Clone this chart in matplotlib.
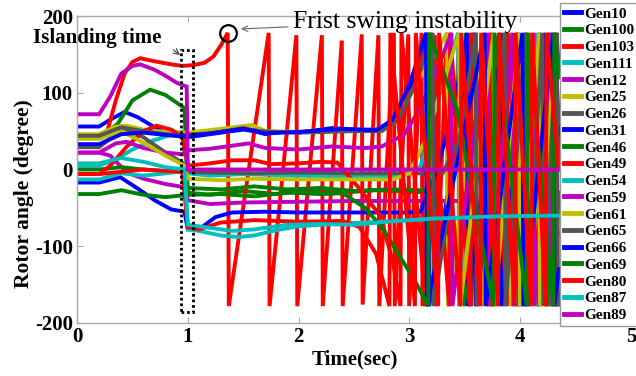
import matplotlib
matplotlib.use("Agg")
import matplotlib.pyplot as plt
from matplotlib.patches import Rectangle

# ---------------- data ----------------
labels = ["Gen10", "Gen100", "Gen103", "Gen111", "Gen12", "Gen25", "Gen26",
          "Gen31", "Gen46", "Gen49", "Gen54", "Gen59", "Gen61", "Gen65",
          "Gen66", "Gen69", "Gen80", "Gen87", "Gen89"]
colors = ["#0000ff", "#008000", "#ff0000", "#00bfbf", "#bf00bf", "#bfbf00", "#555555",
          "#0000ff", "#008000", "#ff0000", "#00bfbf", "#bf00bf", "#bfbf00", "#555555",
          "#0000ff", "#008000", "#ff0000", "#00bfbf", "#bf00bf"]

g10_t = [0, 0.2, 0.3, 0.43, 0.55, 0.7, 0.8, 0.93, 1.0, 1.2, 1.5, 1.6, 1.7, 1.85, 2.0, 2.3, 2.5, 2.76, 2.91, 3.06, 3.17, 3.178, 3.59, 3.598, 3.98, 3.988, 4.27, 4.278, 4.35]
g10_y = [56, 56, 65, 75, 68, 55, 47, 43, 42, 46, 52, 50, 46, 49, 48, 54, 52, 52, 74, 126, 178, -178, 178, -178, 178, -178, 178, -178, -90]

g100_t = [0, 0.2, 0.3, 0.37, 0.5, 0.66, 0.8, 0.97, 1.0, 1.2, 1.5, 1.8, 2.1, 2.4, 2.7, 3.0, 3.2, 3.35, 3.5, 3.508, 3.75, 3.758, 3.97, 3.978, 4.16, 4.168, 4.32, 4.328, 4.35]
g100_y = [45, 45, 52, 60, 90, 104, 97, 80, -30, -33, -28, -32, -27, -30, -27, -29, -30, -80, -178, 178, -178, 178, -178, 178, -178, 178, -178, 178, 130]

g103_t = [0, 0.2, 0.27, 0.35, 0.43, 0.5, 0.57, 0.7, 0.85, 0.95, 1.05, 1.15, 1.23, 1.3, 1.36, 1.37,
          1.73, 1.738, 1.98, 1.988, 2.21, 2.218, 2.39, 2.398, 2.57, 2.578, 2.72, 2.728, 2.86, 2.868,
          2.99, 2.998, 3.11, 3.118, 3.23, 3.238, 3.34, 3.348, 3.45, 3.458, 3.55, 3.558, 3.65, 3.658,
          3.74, 3.748, 3.83, 3.838, 3.92, 3.928, 4.00, 4.008, 4.08, 4.088, 4.16, 4.168, 4.24, 4.248,
          4.32, 4.328, 4.35]
g103_y = [42, 42, 48, 90, 125, 140, 145, 141, 137, 135, 136, 139, 147, 162, 178, -178,
          178, -178, 175, -178, 175, -178, 168, -178, 176, -176, 175, -178, 178, -178,
          176, -178, 178, -178, 175, -178, 178, -178, 176, -178, 178, -178, 175, -178,
          178, -178, 176, -178, 178, -178, 175, -178, 178, -178, 176, -178, 178, -178,
          178, -178, -100]

g111_t = [0, 0.2, 0.35, 0.5, 0.65, 0.8, 0.95, 1.0, 1.2, 1.5, 2.0, 2.5, 2.9, 3.0, 3.1, 3.2, 3.3, 3.44, 3.448, 3.72, 3.728, 3.95, 3.958, 4.14, 4.148, 4.30, 4.308, 4.35]
g111_y = [5, 5, 13, 26, 36, 43, 49, -5, -8, -6, -8, -9, -8, -5, 4, 60, 115, 178, -178, 178, -178, 178, -178, 178, -178, 178, -178, -80]

g12_t = [0, 0.2, 0.3, 0.45, 0.6, 0.8, 0.97, 1.0, 1.2, 1.5, 2.0, 2.5, 3.0, 3.52, 3.62, 3.75, 3.758, 3.98, 3.988, 4.17, 4.178, 4.33, 4.338, 4.35]
g12_y = [22, 22, 18, -4, -12, -19, -23, -40, -45, -43, -42, -41, -41, -41, 20, 178, -178, 178, -178, 178, -178, 178, -178, -160]

g25_t = [0, 0.2, 0.35, 0.45, 0.6, 0.8, 1.0, 1.3, 1.58, 1.7, 2.0, 2.4, 2.75, 2.85, 2.95, 3.1, 3.25, 3.34, 3.348, 3.66, 3.668, 3.9, 3.908, 4.1, 4.108, 4.26, 4.268, 4.35]
g25_y = [46, 46, 56, 57, 52, 49, 48, 53, 58, 50, 49, 51, 50, 60, 82, 120, 155, 178, -178, 178, -178, 178, -178, 178, -178, 178, -178, -60]

g26_t = [0, 0.2, 0.42, 0.6, 0.8, 0.95, 1.0, 1.2, 1.6, 2.0, 2.5, 3.0, 3.3, 3.45, 3.6, 3.608, 3.85, 3.858, 4.05, 4.058, 4.22, 4.228, 4.35]
g26_y = [29, 29, 54, 42, 22, 9, -3, -4, -5, -4, -5, -5, -5, 40, 178, -178, 178, -178, 178, -178, 178, -178, 75]

g31_t = [0, 0.2, 0.39, 0.55, 0.7, 0.85, 0.97, 1.0, 1.1, 1.25, 1.4, 1.7, 2.0, 2.5, 3.0, 3.1, 3.25, 3.4, 3.52, 3.528, 3.82, 3.828, 4.06, 4.068, 4.23, 4.238, 4.35]
g31_y = [-17, -17, -10, -25, -40, -52, -55, -78, -78, -62, -56, -55, -56, -56, -56, -55, 0, 80, 178, -178, 178, -178, 178, -178, 178, -178, 60]

g46_t = [0, 0.2, 0.4, 0.6, 0.8, 0.97, 1.0, 1.3, 1.6, 1.9, 2.2, 2.5, 2.8, 3.1, 3.2, 3.4, 3.55, 3.558, 3.8, 3.808, 4.05, 4.058, 4.25, 4.258, 4.35]
g46_y = [0, 0, 3, 0, -2, -3, -24, -26, -22, -26, -24, -28, -26, -27, -28, -100, -178, 178, -178, 178, -178, 178, -178, 178, 20]

g49_t = [0, 0.2, 0.3, 0.45, 0.6, 0.72, 0.85, 0.95, 1.0, 1.2, 1.4, 1.6, 1.75, 2.0, 2.2, 2.35, 2.55, 2.74, 2.85, 2.92, 2.928,
         3.15, 3.158, 3.36, 3.368, 3.55, 3.558, 3.72, 3.728, 3.88, 3.888, 4.03, 4.038, 4.17, 4.178, 4.30, 4.308, 4.35]
g49_y = [-6, -6, 5, 30, 50, 57, 52, 43, 5, 8, 12, 12, 7, 8, 10, 9, -25, -61, -120, -178, 178,
         -178, 178, -178, 178, -178, 178, -178, 178, -178, 178, -178, 178, -178, 178, -178, 178, 60]

g54_t = [0, 0.2, 0.4, 0.6, 0.8, 0.97, 1.0, 1.1, 1.3, 1.45, 1.6, 1.8, 2.0, 2.3, 2.6, 3.0, 3.5, 4.0, 4.35]
g54_y = [-13, -13, -5, -8, -5, -2, -78, -80, -86, -88, -86, -79, -74, -71, -69, -66, -63, -61, -60]

g59_t = [0, 0.2, 0.35, 0.45, 0.6, 0.8, 0.95, 1.0, 1.2, 1.4, 1.55, 1.7, 2.0, 2.3, 2.6, 2.75, 2.95, 3.1, 3.25, 3.38, 3.388, 3.70, 3.708, 3.93, 3.938, 4.12, 4.128, 4.28, 4.288, 4.35]
g59_y = [22, 22, 34, 36, 28, 22, 20, 25, 27, 31, 34, 28, 26, 30, 28, 30, 45, 80, 130, 178, -178, 178, -178, 178, -178, 178, -178, 178, -178, -30]

g61_t = [0, 0.2, 0.4, 0.6, 0.8, 0.97, 1.0, 1.3, 1.6, 2.0, 2.5, 2.85, 3.0, 3.15, 3.3, 3.45, 3.458, 3.76, 3.768, 3.99, 3.998, 4.17, 4.178, 4.31, 4.318, 4.35]
g61_y = [40, 40, 50, 35, 18, 5, -12, -14, -12, -13, -13, -13, -5, 40, 110, 178, -178, 178, -178, 178, -178, 178, -178, 178, -178, -90]

g65_t = [0, 0.2, 0.4, 0.6, 0.8, 0.95, 1.2, 1.5, 1.65, 2.0, 2.5, 2.75, 2.9, 3.05, 3.21, 3.218, 3.60, 3.608, 3.86, 3.868, 4.05, 4.058, 4.2, 4.208, 4.33, 4.338, 4.35]
g65_y = [44, 44, 55, 50, 46, 45, 47, 54, 50, 48, 50, 50, 65, 110, 178, -178, 178, -178, 178, -178, 178, -178, 178, -178, 178, -178, -170]

g66_t = [0, 0.2, 0.4, 0.6, 0.8, 0.95, 1.0, 1.2, 1.5, 1.7, 2.0, 2.4, 2.7, 2.85, 3.0, 3.15, 3.158, 3.68, 3.688, 4.02, 4.028, 4.30, 4.308, 4.35]
g66_y = [33, 33, 46, 48, 45, 43, 44, 47, 53, 47, 49, 53, 51, 65, 110, 178, -178, 178, -178, 178, -178, 178, -178, -130]

g69_t = [0, 0.2, 0.4, 0.6, 0.8, 1.0, 1.3, 1.6, 1.9, 2.2, 2.4, 2.6, 2.75, 2.9, 3.05, 3.17, 3.178, 3.43, 3.76, 3.768, 4.06, 4.068, 4.30, 4.308, 4.35]
g69_y = [-32, -32, -27, -33, -36, -33, -32, -35, -30, -32, -31, -50, -75, -110, -145, -178, 178, 78, -178, 178, -178, 178, -178, 178, 120]

g80_t = [0, 0.2, 0.4, 0.6, 0.8, 0.95, 1.0, 1.1, 1.3, 1.6, 2.0, 2.4, 2.55, 2.7, 2.82, 2.828, 3.05, 3.058, 3.26, 3.268,
         3.46, 3.468, 3.64, 3.648, 3.80, 3.808, 3.95, 3.958, 4.10, 4.108, 4.23, 4.238, 4.35]
g80_y = [-6, -6, -3, 0, -2, -3, -75, -78, -69, -66, -68, -67, -75, -110, -178, 178, -178, 178, -178, 178,
         -178, 178, -178, 178, -178, 178, -178, 178, -178, 178, -178, 178, 0]

g87_t = [0, 0.2, 0.4, 0.6, 0.8, 0.97, 1.0, 1.2, 1.4, 1.6, 1.9, 2.2, 2.5, 2.8, 3.2, 3.8, 4.35]
g87_y = [8, 8, 15, 10, 3, 0, -72, -76, -80, -78, -72, -71, -72, -68, -64, -61, -60]

g89_t = [0, 0.2, 0.3, 0.4, 0.5, 0.57, 0.7, 0.8, 0.9, 0.99, 1.0, 4.35]
g89_y = [72, 72, 95, 125, 135, 137, 130, 122, 113, 108, 0, 0]

series_t = [g10_t, g100_t, g103_t, g111_t, g12_t, g25_t, g26_t, g31_t, g46_t, g49_t,
            g54_t, g59_t, g61_t, g65_t, g66_t, g69_t, g80_t, g87_t, g89_t]
series_y = [g10_y, g100_y, g103_y, g111_y, g12_y, g25_y, g26_y, g31_y, g46_y, g49_y,
            g54_y, g59_y, g61_y, g65_y, g66_y, g69_y, g80_y, g87_y, g89_y]

xticks = [0, 1, 2, 3, 4, 5]
yticks = [-200, -100, 0, 100, 200]

# ---------------- figure ----------------
serif = ["Liberation Serif", "DejaVu Serif"]
plt.rcParams["font.family"] = serif

fig = plt.figure(figsize=(6.36, 3.76), dpi=100)
ax = fig.add_axes([77 / 636, 1 - 323 / 376, 554 / 636, 307 / 376])

for t, y, c, lab in zip(series_t, series_y, colors, labels):
    ax.plot(t, y, color=c, lw=2.8, label=lab, solid_joinstyle="miter")

ax.set_xlim(0, 5)
ax.set_ylim(-200, 200)
ax.set_xticks(xticks)
ax.set_yticks(yticks)
ax.set_xticklabels([str(v) for v in xticks])
ax.set_yticklabels([str(v) for v in yticks])
ax.tick_params(direction="in", length=4, width=0.8, color="#aaaaaa",
               top=True, right=True, labelsize=15, pad=3)
for lab in ax.get_xticklabels() + ax.get_yticklabels():
    lab.set_fontweight("bold")
for s in ax.spines.values():
    s.set_color("#aaaaaa")
    s.set_linewidth(1.0)

ax.set_xlabel("Time(sec)", fontsize=15, fontweight="bold")
ax.set_ylabel("Rotor angle (degree)", fontsize=15.5, fontweight="bold")
ax.xaxis.set_label_coords((355 - 77) / 554, (323 - 349) / 307)
ax.yaxis.set_label_coords((34 - 77) / 554, (323 - 194) / 307)

# islanding box
ax.add_patch(Rectangle((0.94, -186), 0.11, 342, fill=False, ls=(0, (1, 1)),
                       lw=2.0, ec="black", zorder=5))
# first swing circle
ax.plot([1.36], [178], marker="o", ms=12, mfc="none", mec="black", mew=1.6,
        clip_on=False, zorder=6)

ax.text(-0.40, 171, "Islanding time", fontsize=15, fontweight="bold",
        ha="left", va="center", clip_on=False)
ax.annotate("", xy=(0.95, 147), xytext=(0.85, 158),
            arrowprops=dict(arrowstyle="->", color="#444444", lw=0.8), annotation_clip=False)
ax.text(1.95, 192, "Frist swing instability", fontsize=18.5,
        ha="left", va="center", clip_on=False)
ax.annotate("", xy=(1.455, 183), xytext=(1.93, 186),
            arrowprops=dict(arrowstyle="->", color="#666666", lw=0.8), annotation_clip=False)

leg = fig.legend(loc="upper left", bbox_to_anchor=(560 / 636, 1 - 3 / 376),
                 prop={"family": serif, "weight": "bold", "size": 11},
                 frameon=True, fancybox=False, framealpha=1, edgecolor="#999999",
                 handlelength=1.15, handletextpad=0.2, labelspacing=0.2,
                 borderpad=0.25, borderaxespad=0)
for h in leg.get_lines():
    h.set_linewidth(3.5)
leg.get_frame().set_linewidth(1.0)

fig.savefig("out.png", dpi=100, facecolor="white")
